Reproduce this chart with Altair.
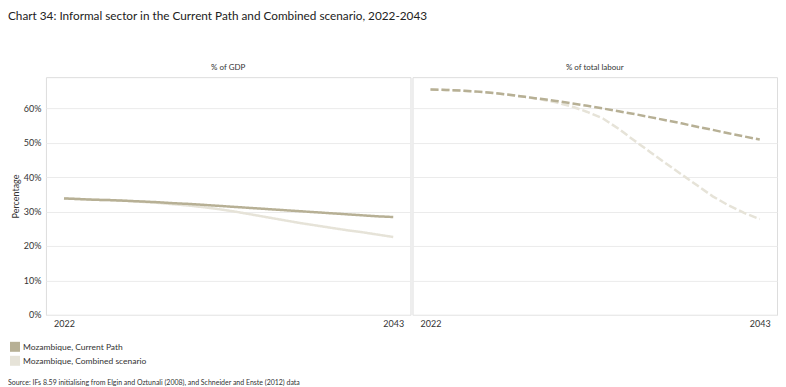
import altair as alt
import pandas as pd

years = list(range(2022, 2044))
gdp_current = [33.8, 33.6, 33.4, 33.3, 33.1, 32.9, 32.7, 32.4, 32.2, 31.9, 31.6,
               31.3, 31.0, 30.7, 30.4, 30.1, 29.8, 29.5, 29.2, 28.9, 28.6, 28.4]
gdp_combined = [33.8, 33.6, 33.4, 33.3, 33.1, 32.8, 32.5, 32.1, 31.7, 31.2, 30.6,
                29.9, 29.1, 28.3, 27.5, 26.7, 26.0, 25.3, 24.6, 24.0, 23.3, 22.6]
labour_current = [65.4, 65.3, 65.1, 64.8, 64.4, 63.9, 63.3, 62.7, 62.1, 61.4, 60.7,
                  59.9, 59.1, 58.3, 57.4, 56.5, 55.6, 54.6, 53.7, 52.7, 51.8, 50.9]
labour_combined = [65.4, 65.3, 65.1, 64.8, 64.4, 63.9, 63.3, 62.6, 61.7, 60.5, 58.9,
                   57.0, 54.0, 50.6, 47.3, 44.0, 40.8, 37.6, 34.4, 31.8, 29.6, 27.8]

measures = ["% of GDP", "% of total labour"]
scenarios = ["Mozambique, Current Path", "Mozambique, Combined scenario"]
colors = ["#b7b095", "#e6e3d8"]
y_ticks = [0, 10, 20, 30, 40, 50, 60]
x_ticks = [2022, 2043]
title_text = "Chart 34: Informal sector in the Current Path and Combined scenario, 2022-2043"
source_text = ["Source: IFs 8.59 initialising from Elgin and Oztunali (2008), and Schneider and Enste (2012) data"]

rows = []
for measure, cur, comb in [(measures[0], gdp_current, gdp_combined),
                           (measures[1], labour_current, labour_combined)]:
    for y, v in zip(years, cur):
        rows.append({"measure": measure, "scenario": scenarios[0], "year": y, "value": v})
    for y, v in zip(years, comb):
        rows.append({"measure": measure, "scenario": scenarios[1], "year": y, "value": v})
df = pd.DataFrame(rows)

FONT = "Lato"
TXT = "#333333"

color_scale = alt.Scale(domain=scenarios, range=colors)

x_enc = alt.X("year:Q", scale=alt.Scale(domain=[2020.85, 2044.1], nice=False, zero=False),
              axis=alt.Axis(values=x_ticks, format="d", title=None, grid=False, domain=False,
                            ticks=False, labelFontSize=9, labelPadding=4, labelColor=TXT))
y_enc = alt.Y("value:Q", scale=alt.Scale(domain=[0, 69], nice=False),
              axis=alt.Axis(values=y_ticks, labelExpr="datum.value + '%'", title="Percentage",
                            titleFontSize=9, titleFontWeight="normal", titleColor=TXT,
                            titlePadding=3, labelFontSize=9, labelColor=TXT, labelPadding=4,
                            ticks=False, domain=False, grid=True, gridColor="#ebebeb"))
color_enc = alt.Color("scenario:N", scale=color_scale, legend=None)
dash_enc = alt.StrokeDash("measure:N", scale=alt.Scale(domain=measures, range=[[1, 0], [8, 3]]),
                          legend=None)

base = alt.Chart(df).mark_line(strokeWidth=2.5, strokeCap="butt").encode(
    x=x_enc, y=y_enc, color=color_enc, strokeDash=dash_enc)

combined_layer = base.transform_filter(alt.datum.scenario == scenarios[1])
current_layer = base.transform_filter(alt.datum.scenario == scenarios[0])

panels = alt.layer(combined_layer, current_layer).properties(width=365, height=238).facet(
    column=alt.Column("measure:N", sort=measures,
                      header=alt.Header(title=None, labelFontSize=8, labelColor=TXT,
                                        labelPadding=4, labelFont=FONT)),
    spacing=0,
)

# manual legend (filled squares + labels)
legend_df = pd.DataFrame({"scenario": scenarios})
leg_y = alt.Y("scenario:N", sort=scenarios,
              scale=alt.Scale(domain=scenarios, paddingInner=0, paddingOuter=0), axis=None)
legend_sq = alt.Chart(legend_df).mark_square(size=100, opacity=1).encode(
    x=alt.value(-31), y=leg_y, color=alt.Color("scenario:N", scale=color_scale, legend=None))
legend_txt = alt.Chart(legend_df).mark_text(align="left", baseline="middle", fontSize=8.5,
                                            color=TXT, font=FONT).encode(
    x=alt.value(-23), y=leg_y, text="scenario:N")
legend_chart = alt.layer(legend_sq, legend_txt).properties(
    width=300, height=28, view=alt.ViewBackground(strokeOpacity=0))

source_chart = alt.Chart(pd.DataFrame({"text": source_text})).mark_text(
    align="left", baseline="middle", fontSize=7, color=TXT, font=FONT
).encode(x=alt.value(-38), y=alt.value(0), text="text:N").properties(
    width=700, height=1, view=alt.ViewBackground(strokeOpacity=0))

chart = alt.vconcat(panels, legend_chart, source_chart, spacing=11).properties(
    title=alt.TitleParams(title_text, anchor="start", fontSize=11.8, font=FONT,
                          fontWeight="normal", color="#222", offset=41),
    padding={"left": 0, "top": 3, "right": 0, "bottom": 0},
).configure_view(stroke="#dcdcdc").configure(font=FONT)

chart.save("out.html", embed_options={"renderer": "svg", "actions": False})
